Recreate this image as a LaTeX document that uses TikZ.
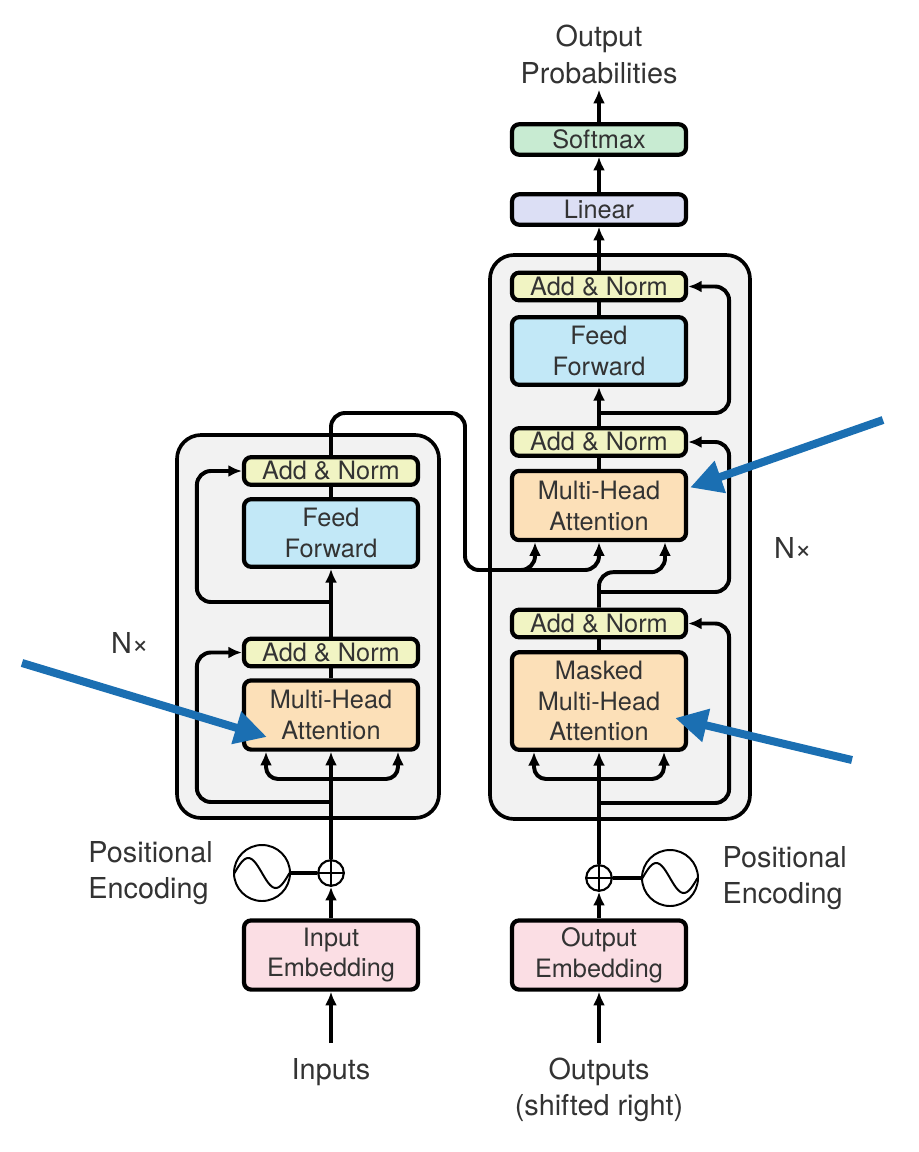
\documentclass[tikz,border=0pt]{standalone}
\usepackage{fontspec}
\setmainfont{TeX Gyre Heros}
\usepackage{tikz}
\usetikzlibrary{positioning,fit,calc,arrows.meta}

\definecolor{normcol}{RGB}{241,244,195}
\definecolor{ffcol}{RGB}{194,232,247}
\definecolor{attcol}{RGB}{252,224,184}
\definecolor{embcol}{RGB}{251,222,228}
\definecolor{lincol}{RGB}{220,223,245}
\definecolor{softcol}{RGB}{200,235,210}
\definecolor{stackcol}{RGB}{242,242,242}
\definecolor{noteblue}{RGB}{27,111,178}
\definecolor{txtgray}{RGB}{51,51,51}

\newcommand\blockfont{\fontsize{18}{22}\selectfont}
\newcommand\labelfont{\fontsize{20.5}{26}\selectfont}

\tikzset{
  block/.style={draw, line width=3pt, rounded corners=1.8mm, minimum width=43.5mm,
    inner sep=0pt, align=center, font=\blockfont, text=txtgray},
  addnorm/.style={block, fill=normcol, minimum height=6.9mm},
  ffblock/.style={block, fill=ffcol, minimum height=16.9mm},
  attblock/.style={block, fill=attcol, minimum height=17.3mm},
  embblock/.style={block, fill=embcol, minimum height=17.3mm},
  stackbox/.style={draw, line width=2.6pt, rounded corners=6mm, fill=stackcol, inner sep=0pt},
  txtlabel/.style={font=\labelfont, text=txtgray, align=center, inner sep=0pt},
  sinecirc/.style={circle, draw, line width=1.4pt, minimum size=14mm, inner sep=0pt},
  pluscirc/.style={circle, draw, line width=1.5pt, minimum size=6.4mm, inner sep=0pt},
  note/.style={draw=noteblue, line width=2mm, -{Triangle[length=8mm,width=8mm]}},
}

\begin{document}
\begin{tikzpicture}[x=0.25mm, y=-0.25mm, line width=2.8pt, >={Latex[length=3.4mm,width=3mm]}]
	\useasboundingbox (0,0) rectangle (918,1152);

	% stacks
	\node[stackbox, fit={(177,435) (439,818)}] (encStack) {};
	\node[stackbox, fit={(490,255) (750,819)}] (decStack) {};

	% encoder
	\node[attblock] (mhaE) at (331,715) {Multi-Head\\Attention};
	\node[addnorm] (addE1) at (331,652.5) {Add \& Norm};
	\node[ffblock] (ffE) at (331,533) {Feed\\Forward};
	\node[addnorm] (addE2) at (331,471) {Add \& Norm};

	% decoder
	\node[attblock, minimum height=24.4mm] (mmhaD) at (599,701) {Masked\\Multi-Head\\Attention};
	\node[addnorm] (addD1) at (599,623.5) {Add \& Norm};
	\node[attblock] (mhaD) at (599,505.5) {Multi-Head\\Attention};
	\node[addnorm] (addD2) at (599,442) {Add \& Norm};
	\node[ffblock] (ffD) at (599,351) {Feed\\Forward};
	\node[addnorm] (addD3) at (599,286.5) {Add \& Norm};

	\node[block, fill=lincol, minimum height=7.6mm] (linear) at (599,209.5) {Linear};
	\node[block, fill=softcol, minimum height=7.6mm] (softmax) at (599,139.5) {Softmax};
	\node[txtlabel, inner sep=1mm] (outProb) at (599,54.5) {Output\\Probabilities};

	% embeddings
	\node[embblock] (inEmb) at (331,955) {Input\\Embedding};
	\node[embblock] (outEmb) at (599,955) {Output\\Embedding};
	\node[txtlabel, inner sep=3.3mm] (inputs) at (331,1072) {Inputs};
	\node[txtlabel, inner sep=3.3mm] (outputs) at (599,1090) {Outputs\\(shifted right)};

	% positional encoding
	\node[pluscirc] (plusE) at (331,873) {};
	\node[sinecirc] (sineE) at (262,873) {};
	\node[txtlabel, align=left, left=4.6mm of sineE] (peE) {Positional\\Encoding};
	\node[pluscirc] (plusD) at (599,878) {};
	\node[sinecirc] (sineD) at (670,878) {};
	\node[txtlabel, align=left, right=5.4mm of sineD] (peD) {Positional\\Encoding};

	\foreach \p in {plusE,plusD} {
		\draw[line width=1.5pt] (\p.north) -- (\p.south) (\p.west) -- (\p.east);
	}
	\foreach \s in {sineE,sineD} {
		\draw[line width=1.4pt, shift={(\s.center)}] plot[domain=-1:1, samples=41, smooth]
			({27.5*\x}, {15*sin(180*\x)});
	}
	\draw (sineE) -- (plusE);
	\draw (plusD) -- (sineD);

	\node[txtlabel] (nEnc) at (130,643) {N×};
	\node[txtlabel] (nDec) at (793,548) {N×};

	% encoder connectors
	\coordinate (splitE) at (331,779);
	\coordinate (resE1) at (331,802);
	\coordinate (resE2) at (331,602);
	\draw[->] (inputs.north) -- (inEmb.south);
	\draw[->] (inEmb.north) -- (plusE.south);
	\draw[->] (plusE.north) -- (mhaE.south);
	\draw[->, rounded corners=3mm] (splitE) -| ($(mhaE.south)+(-65,0)$);
	\draw[->, rounded corners=3mm] (splitE) -| ($(mhaE.south)+(67,0)$);
	\draw (mhaE.north) -- (addE1.south);
	\draw[->, rounded corners=3.5mm] (resE1) -| ($(addE1.west)+(-45,0)$) -- (addE1.west);
	\draw[->] (addE1.north) -- (ffE.south);
	\draw (ffE.north) -- (addE2.south);
	\draw[->, rounded corners=3.5mm] (resE2) -| ($(addE2.west)+(-45,0)$) -- (addE2.west);

	% encoder output into decoder
	\coordinate (encUp) at (465,413);
	\coordinate (encDown) at (465,570);
	\draw[->, rounded corners=3.5mm] (addE2.north) |- (encUp) -- (encDown) -| (mhaD.south);
	\draw[->, rounded corners=3.5mm] ($(encDown)+(30,0)$) -| ($(mhaD.south)+(-64,0)$);

	% decoder connectors
	\coordinate (splitD) at (599,779);
	\coordinate (resD1) at (599,803);
	\coordinate (resD2) at (599,592);
	\coordinate (resD3) at (599,413);
	\draw[->] (outputs.north) -- (outEmb.south);
	\draw[->] (outEmb.north) -- (plusD.south);
	\draw[->] (plusD.north) -- (mmhaD.south);
	\draw[->, rounded corners=3mm] (splitD) -| ($(mmhaD.south)+(-65,0)$);
	\draw[->, rounded corners=3mm] (splitD) -| ($(mmhaD.south)+(65,0)$);
	\draw (mmhaD.north) -- (addD1.south);
	\draw[->, rounded corners=3.5mm] (resD1) -| ($(addD1.east)+(41,0)$) -- (addD1.east);
	\draw[->, rounded corners=3.5mm] (addD1.north) |- ($(mhaD.south)+(30,30)$) -| ($(mhaD.south)+(66,0)$);
	\draw[->, rounded corners=3.5mm] (resD2) -| ($(addD2.east)+(41,0)$) -- (addD2.east);
	\draw (mhaD.north) -- (addD2.south);
	\draw[->] (addD2.north) -- (ffD.south);
	\draw (ffD.north) -- (addD3.south);
	\draw[->, rounded corners=3.5mm] (resD3) -| ($(addD3.east)+(41,0)$) -- (addD3.east);
	\draw[->] (addD3.north) -- (linear.south);
	\draw[->] (linear.north) -- (softmax.south);
	\draw[->] (softmax.north) -- (outProb.south);

	% notes
	\coordinate (noteEnc) at (22,663);
	\coordinate (noteCross) at (883,420);
	\coordinate (noteMask) at (852,760);
	\draw[note] (noteEnc) -- ($(mhaE.west)+(25,22)$);
	\draw[note] (noteCross) -- ($(mhaD.east)+(2,-18)$);
	\draw[note] (noteMask) -- ($(mmhaD.east)+(-13,17)$);
\end{tikzpicture}
\end{document}
